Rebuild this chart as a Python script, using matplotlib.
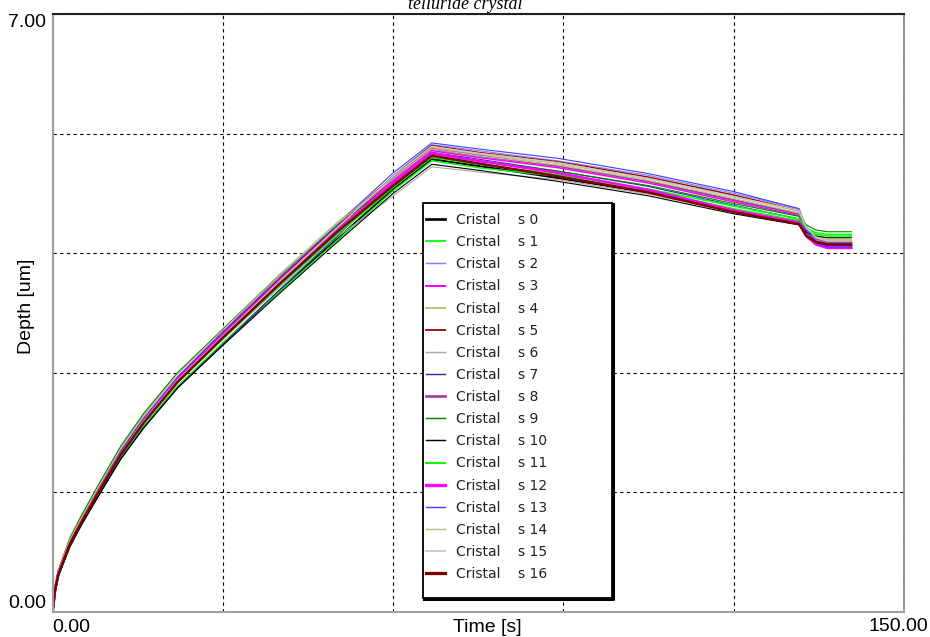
import matplotlib.pyplot as plt
from matplotlib.lines import Line2D
from matplotlib.patches import Rectangle

#------------Data--------------------------------------------#
time_s = [0, 0.4, 1, 3, 5, 8, 12, 16, 22, 30, 40, 50,
          60, 66.8, 75, 89, 105, 120, 131.5, 132.8, 134.5, 136.5, 140.7]

curve_names = ["Cristal    s %d" % i for i in range(17)]

depth_um = [
    # s0
    [0, 0.23, 0.43, 0.77, 1.02, 1.36, 1.80, 2.16, 2.63, 3.14, 3.76, 4.36,
     4.95, 5.30, 5.22, 5.08, 4.91, 4.70, 4.55, 4.40, 4.31, 4.28, 4.28],
    # s1
    [0, 0.24, 0.44, 0.78, 1.03, 1.37, 1.81, 2.17, 2.64, 3.15, 3.75, 4.34,
     4.93, 5.28, 5.20, 5.10, 4.93, 4.72, 4.58, 4.49, 4.44, 4.42, 4.42],
    # s2
    [0, 0.25, 0.45, 0.80, 1.05, 1.40, 1.85, 2.22, 2.70, 3.22, 3.86, 4.47,
     5.11, 5.47, 5.40, 5.28, 5.11, 4.90, 4.72, 4.49, 4.35, 4.30, 4.30],
    # s3
    [0, 0.26, 0.46, 0.82, 1.07, 1.42, 1.87, 2.25, 2.73, 3.26, 3.89, 4.49,
     5.05, 5.40, 5.32, 5.20, 5.02, 4.80, 4.64, 4.44, 4.32, 4.28, 4.28],
    # s4
    [0, 0.27, 0.48, 0.84, 1.10, 1.46, 1.92, 2.30, 2.79, 3.31, 3.95, 4.55,
     5.09, 5.44, 5.36, 5.25, 5.07, 4.86, 4.69, 4.51, 4.40, 4.36, 4.36],
    # s5
    [0, 0.26, 0.47, 0.82, 1.08, 1.43, 1.88, 2.26, 2.74, 3.27, 3.90, 4.51,
     5.10, 5.46, 5.38, 5.27, 5.09, 4.88, 4.70, 4.50, 4.38, 4.34, 4.34],
    # s6
    [0, 0.25, 0.45, 0.80, 1.05, 1.39, 1.84, 2.21, 2.68, 3.19, 3.80, 4.38,
     4.87, 5.21, 5.15, 5.06, 4.89, 4.68, 4.55, 4.42, 4.35, 4.32, 4.32],
    # s7
    [0, 0.23, 0.42, 0.76, 1.01, 1.35, 1.79, 2.15, 2.62, 3.13, 3.77, 4.39,
     5.03, 5.38, 5.30, 5.16, 4.98, 4.76, 4.60, 4.44, 4.34, 4.31, 4.31],
    # s8
    [0, 0.26, 0.46, 0.81, 1.06, 1.41, 1.86, 2.24, 2.72, 3.25, 3.88, 4.49,
     5.07, 5.42, 5.34, 5.22, 5.04, 4.82, 4.66, 4.48, 4.37, 4.33, 4.33],
    # s9
    [0, 0.28, 0.49, 0.86, 1.12, 1.48, 1.94, 2.32, 2.80, 3.31, 3.94, 4.51,
     5.02, 5.36, 5.28, 5.16, 4.99, 4.78, 4.63, 4.53, 4.47, 4.45, 4.45],
    # s10
    [0, 0.22, 0.42, 0.76, 1.01, 1.35, 1.79, 2.15, 2.62, 3.12, 3.73, 4.32,
     4.90, 5.24, 5.17, 5.04, 4.87, 4.66, 4.53, 4.45, 4.40, 4.38, 4.38],
    # s11
    [0, 0.25, 0.45, 0.79, 1.04, 1.39, 1.84, 2.21, 2.69, 3.20, 3.82, 4.41,
     4.97, 5.32, 5.24, 5.12, 4.95, 4.75, 4.60, 4.49, 4.42, 4.40, 4.40],
    # s12
    [0, 0.26, 0.46, 0.81, 1.06, 1.41, 1.86, 2.24, 2.72, 3.24, 3.87, 4.46,
     5.02, 5.37, 5.28, 5.14, 4.94, 4.70, 4.56, 4.40, 4.30, 4.26, 4.26],
    # s13
    [0, 0.26, 0.47, 0.82, 1.07, 1.42, 1.88, 2.26, 2.75, 3.28, 3.92, 4.53,
     5.14, 5.49, 5.42, 5.31, 5.13, 4.92, 4.72, 4.47, 4.32, 4.27, 4.27],
    # s14
    [0, 0.27, 0.48, 0.84, 1.09, 1.45, 1.91, 2.29, 2.78, 3.30, 3.94, 4.54,
     5.07, 5.42, 5.34, 5.23, 5.05, 4.84, 4.67, 4.49, 4.39, 4.35, 4.35],
    # s15
    [0, 0.25, 0.45, 0.80, 1.05, 1.40, 1.85, 2.23, 2.71, 3.23, 3.87, 4.49,
     5.10, 5.45, 5.37, 5.26, 5.07, 4.86, 4.70, 4.50, 4.38, 4.34, 4.34],
    # s16
    [0, 0.25, 0.44, 0.79, 1.04, 1.39, 1.84, 2.21, 2.69, 3.21, 3.84, 4.44,
     4.99, 5.34, 5.25, 5.10, 4.91, 4.68, 4.54, 4.40, 4.33, 4.30, 4.30],
]

colors = ['#000000', '#00ff00', '#8080ff', '#ff00ff', '#c0c080', '#a00000',
          '#a8a8a8', '#3030b0', '#a040a0', '#008000', '#000000', '#00ff00',
          '#ff00ff', '#4040ff', '#c0c080', '#c8c8c8', '#800000']
widths = [1.5, 1.0, 0.8, 1.1, 1.1, 1.0, 0.8, 0.8, 1.5, 0.8, 0.8, 1.1,
          1.8, 0.8, 0.8, 1.0, 1.8]

#----------------Figure---------------------#
W, H = 930, 637
fig = plt.figure(figsize=(W / 100, H / 100), dpi=100)
ax = fig.add_axes([52.7 / W, (H - 611.7) / H, (904 - 52.7) / W, 597.7 / H])

for i in range(17):
    ax.plot(time_s, depth_um[i], color=colors[i], lw=widths[i])

ax.set_xlim(0, 150)
ax.set_ylim(0, 7)
ax.set_xticks([0, 30, 60, 90, 120, 150])
ax.set_xticklabels(['0.00', '', '', '', '', ''])
ax.set_yticks([0, 1.4, 2.8, 4.2, 5.6, 7.0])
ax.set_yticklabels(['0.00', '', '', '', '', '7.00'])
ax.tick_params(length=0, labelsize=14, pad=5)
for lab in ax.get_xticklabels() + ax.get_yticklabels():
    lab.set_fontfamily('Liberation Sans')
ax.get_xticklabels()[0].set_ha('left')
ax.get_yticklabels()[0].set_va('bottom')
ax.get_yticklabels()[-1].set_va('top')
# right end label sits flush with the figure edge
ax.text(1.0 + 24 / 851.3, -6 / 597.7, '150.00', transform=ax.transAxes,
        ha='right', va='top', fontsize=14, family='Liberation Sans')

ax.grid(True, color='black', linestyle=(0, (3, 3)), linewidth=0.8)
ax.set_axisbelow(True)

ax.spines['left'].set_color('#a0a0a0')
ax.spines['bottom'].set_color('#a0a0a0')
ax.spines['left'].set_linewidth(1.5)
ax.spines['bottom'].set_linewidth(1.5)
ax.spines['top'].set_color('#202020')
ax.spines['top'].set_linewidth(1.5)
ax.spines['right'].set_color('#808080')
ax.spines['right'].set_linewidth(1.2)

ax.set_xlabel('Time [s]', fontsize=14, family='Liberation Sans')
ax.set_ylabel('Depth [um]', fontsize=14, family='Liberation Sans')
ax.xaxis.set_label_coords(0.51, -0.012)
ax.yaxis.set_label_coords(-0.021, 0.511)

fig.text(465 / W, 1 - 9 / H, 'telluride crystal', ha='center', va='baseline',
         fontsize=13, style='italic', family='Liberation Serif')

#------------------Legend--------------#
fig.patches.append(Rectangle((423 / W, (H - 598) / H), (612 - 423) / W, (598 - 203) / H,
                             transform=fig.transFigure, facecolor='white',
                             edgecolor='black', lw=1.3, zorder=5))
fig.lines.append(Line2D([424 / W, 613 / W, 613 / W], [(H - 598.5) / H, (H - 598.5) / H, (H - 204) / H],
                        transform=fig.transFigure, color='black', lw=2.2, zorder=5))
handles = [Line2D([], [], color=colors[i], lw=widths[i] * 1.3) for i in range(17)]
leg = fig.legend(handles, curve_names, loc='upper left',
                 bbox_to_anchor=(426 / W, 1 - 213 / H), bbox_transform=fig.transFigure,
                 frameon=False, fontsize=10, handlelength=1.4, handletextpad=0.75,
                 labelspacing=0.585, borderpad=0, borderaxespad=0)
leg.set_zorder(6)
for t in leg.get_texts():
    t.set_color('#202020')

fig.savefig('out.png', dpi=100)
